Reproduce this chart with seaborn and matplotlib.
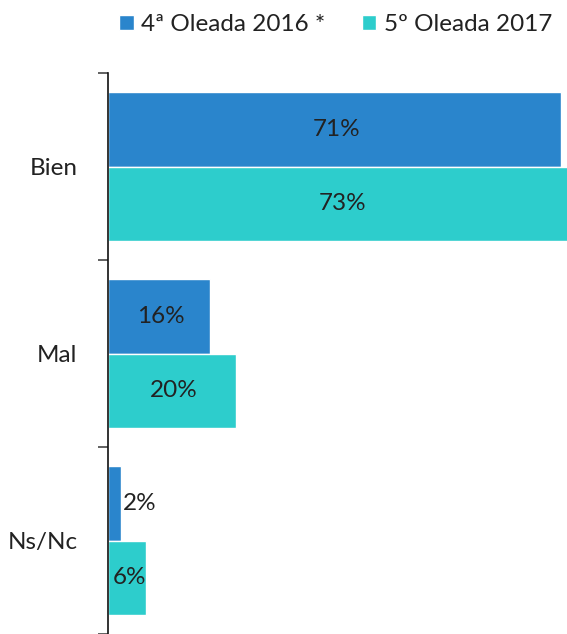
import pandas as pd
import seaborn as sns
import matplotlib.pyplot as plt
from matplotlib.ticker import FixedLocator

# datos
categorias = ["Bien", "Mal", "Ns/Nc"]
series = ["4ª Oleada 2016 *", "5º Oleada 2017"]
oleada_2016 = [71, 16, 2]
oleada_2017 = [73, 20, 6]
colores = ["#2a85cc", "#2dcdcc"]

df = pd.DataFrame({
    "categoria": categorias * 2,
    "serie": [series[0]] * 3 + [series[1]] * 3,
    "valor": oleada_2016 + oleada_2017,
})

sns.set_style("white")
plt.rcParams["font.family"] = ["Lato", "DejaVu Sans"]

fig = plt.figure(figsize=(5.67, 6.34), dpi=100)
ax = fig.add_axes([108 / 567, 0, 1 - 108 / 567, 1 - 73 / 634])

sns.barplot(data=df, y="categoria", x="valor", hue="serie", order=categorias,
            hue_order=series, palette=colores, orient="h", width=0.8,
            saturation=1, ax=ax)

ax.set_xlim(0, 72.0)
ax.set_ylim(2.5, -0.5)
ax.set_xlabel("")
ax.set_ylabel("")
ax.set_xticks([])
sns.despine(ax=ax, top=True, right=True, bottom=True, left=False)
ax.spines["left"].set_color("#111111")
ax.spines["left"].set_linewidth(1.2)

ax.tick_params(axis="y", which="major", left=False, length=0, pad=22,
               labelsize=17.5, labelcolor="#222222")
ax.yaxis.set_minor_locator(FixedLocator([-0.5, 0.5, 1.5, 2.5]))
ax.tick_params(axis="y", which="minor", left=True, length=7, width=1.3,
               color="#555555")

# etiquetas de valor
for cont in ax.containers:
    for rect in cont:
        w = rect.get_width()
        yc = rect.get_y() + rect.get_height() / 2
        if w < 4:
            ax.text(w + 0.4, yc, f"{w:.0f}%", va="center", ha="left",
                    fontsize=17.5, color="#222222")
        else:
            ax.text(w / 2 + 0.3, yc, f"{w:.0f}%", va="center", ha="center",
                    fontsize=17.5, color="#222222")

handles, labels = ax.get_legend_handles_labels()
ax.get_legend().remove()
fig.legend(handles, labels, loc="upper center", bbox_to_anchor=(0.592, 1.012),
           ncol=2, frameon=False, fontsize=17.5, handlelength=0.6,
           handleheight=0.6, handletextpad=0.3, columnspacing=1.5,
           labelcolor="#222222")

fig.savefig("out.png", dpi=100)
